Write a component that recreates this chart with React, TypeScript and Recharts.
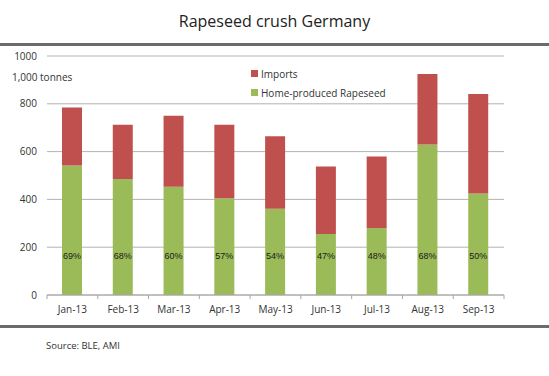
import { BarChart, Bar, XAxis, YAxis, CartesianGrid, LabelList } from "recharts";

const months = ["Jan-13", "Feb-13", "Mar-13", "Apr-13", "May-13", "Jun-13", "Jul-13", "Aug-13", "Sep-13"];
const homeProduced = [542, 485, 453, 405, 361, 255, 280, 630, 425];
const imports = [243, 227, 297, 307, 303, 283, 300, 295, 416];
const shareLabels = ["69%", "68%", "60%", "57%", "54%", "47%", "48%", "68%", "50%"];
const yTicks = [0, 200, 400, 600, 800, 1000];

const data = months.map((m, i) => ({
  month: m,
  home: homeProduced[i],
  imports: imports[i],
  share: shareLabels[i],
}));

const RED = "#C0504D";
const GREEN = "#9BBB59";
const FONT = "'Open Sans', 'Noto Sans', sans-serif";

const PLOT_LEFT = 47;
const PLOT_RIGHT = 504;
const BAND = (PLOT_RIGHT - PLOT_LEFT) / months.length;

// x tick: label in the middle, small tick mark at the left edge of each category
const MonthTick = (props: any) => {
  const { x, y, payload, index } = props;
  return (
    <g>
      <line x1={x - BAND / 2} x2={x - BAND / 2} y1={y} y2={y + 4} stroke="#a6a6a6" />
      {index === months.length - 1 && (
        <line x1={x + BAND / 2} x2={x + BAND / 2} y1={y} y2={y + 4} stroke="#a6a6a6" />
      )}
      <text x={x} y={y + 18} textAnchor="middle" fill="#333" fontSize={10} fontFamily={FONT}>
        {payload.value}
      </text>
    </g>
  );
};

// share label sits near the foot of the green bar
const ShareLabel = (props: any) => {
  const { x, y, width, height, value } = props;
  return (
    <text
      x={x + width / 2}
      y={y + height - 36}
      textAnchor="middle"
      fill="#1a1a1a"
      fontSize={9}
      fontFamily="'Liberation Sans', Arial, sans-serif"
    >
      {value}
    </text>
  );
};

const LegendBox = () => {
  const items = [
    { name: "Imports", color: RED },
    { name: "Home-produced Rapeseed", color: GREEN },
  ];
  return (
    <div style={{ fontFamily: FONT, fontSize: 10, color: "#333" }}>
      {items.map((it) => (
        <div key={it.name} style={{ display: "flex", alignItems: "center", height: 19 }}>
          <span
            style={{
              display: "inline-block",
              width: 7,
              height: 7,
              background: it.color,
              marginRight: 3,
            }}
          />
          {it.name}
        </div>
      ))}
    </div>
  );
};

export default function App() {
  return (
    <div
      style={{
        position: "absolute",
        left: 0,
        top: 0,
        width: 549,
        height: 376,
        background: "#fff",
        fontFamily: FONT,
        overflow: "hidden",
      }}
    >
      <div
        style={{
          position: "absolute",
          left: 0,
          width: 549,
          top: 10,
          textAlign: "center",
          fontSize: 16,
          color: "#222",
        }}
      >
        Rapeseed crush Germany
      </div>
      <div style={{ position: "absolute", left: 0, top: 43, width: 549, height: 3, background: "#6b6b6b" }} />
      <div style={{ position: "absolute", left: 0, top: 325, width: 549, height: 3, background: "#6b6b6b" }} />
      <div style={{ position: "absolute", left: 12, top: 70, fontSize: 10, color: "#333" }}>1,000 tonnes</div>
      <div style={{ position: "absolute", left: 46, top: 339, fontSize: 9.5, color: "#333" }}>Source: BLE, AMI</div>

      <div style={{ position: "absolute", left: 0, top: 0 }}>
        <BarChart
          width={549}
          height={376}
          data={data}
          margin={{ top: 56, right: 549 - PLOT_RIGHT, bottom: 51, left: 0 }}
        >
          <CartesianGrid vertical={false} stroke="#b3b3b3" strokeWidth={1} />
          <XAxis
            dataKey="month"
            height={30}
            axisLine={{ stroke: "#a6a6a6" }}
            tickLine={false}
            tickSize={0}
            tickMargin={0}
            tick={<MonthTick />}
            interval={0}
          />
          <YAxis
            width={PLOT_LEFT}
            domain={[0, 1000]}
            ticks={yTicks}
            axisLine={false}
            tickLine={false}
            tickSize={0}
            tickMargin={10}
            tick={{ fill: "#333", fontSize: 10, fontFamily: FONT }}
          />
          <Bar dataKey="home" stackId="a" fill={GREEN} barSize={20} isAnimationActive={false}>
            <LabelList dataKey="share" content={<ShareLabel />} />
          </Bar>
          <Bar dataKey="imports" stackId="a" fill={RED} barSize={20} isAnimationActive={false} />
        </BarChart>
      </div>

      <div style={{ position: "absolute", left: 251, top: 64 }}>
        <LegendBox />
      </div>
    </div>
  );
}
